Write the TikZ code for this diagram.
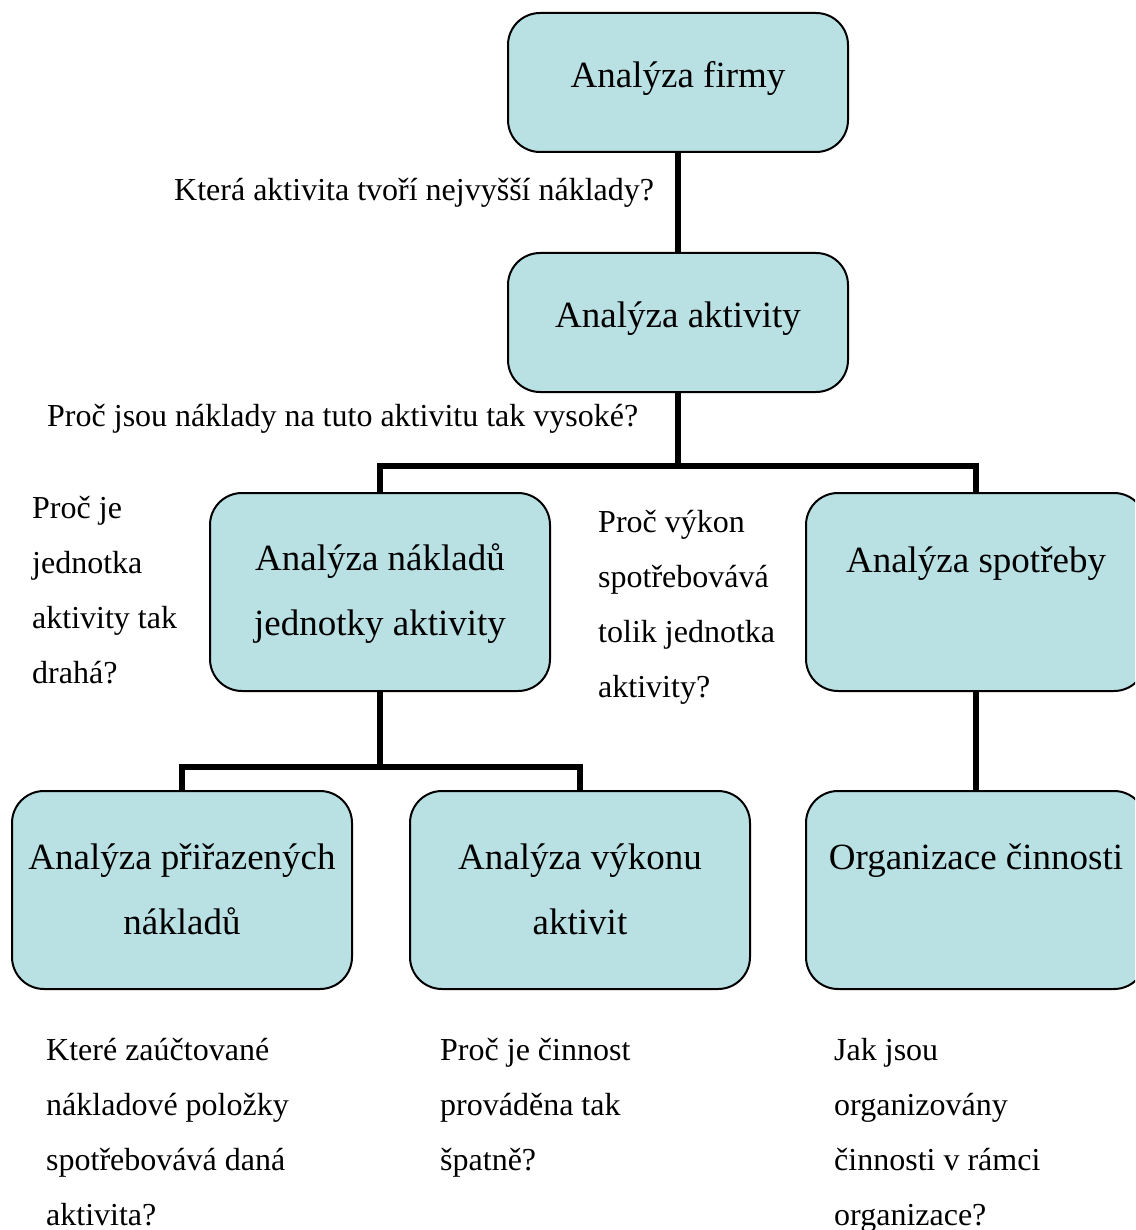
\documentclass[tikz,border=0pt]{standalone}
\usepackage{fontspec}
\setmainfont{Liberation Serif}
\definecolor{boxfill}{RGB}{185,224,227}
% stacked lines whose baseline is that of the first line
\newcommand\leftlines[1]{\vtop{\halign{##\hfil\cr #1\crcr}}}
\newcommand\midlines[1]{\vtop{\halign{\hfil##\hfil\cr #1\crcr}}}
\begin{document}
\begin{tikzpicture}[x=1pt,y=-1pt,
  box/.style={draw=black, line width=2pt, fill=boxfill, rounded corners=32pt,
              minimum width=340pt, anchor=north west, inner sep=0pt, outer sep=0pt},
  small/.style={minimum height=139pt},
  tall/.style={minimum height=198pt},
  boxtext/.style={font=\fontsize{37}{65}\selectfont, anchor=base, inner sep=0pt},
  question/.style={font=\fontsize{32}{55}\selectfont, anchor=base west, inner sep=0pt},
  link/.style={line width=5.5pt}]
\useasboundingbox (0,0) rectangle (1135,1230);
\clip (0,0) rectangle (1135,1230);

% boxes
\node[box, small] (firm) at (508,13) {};
\node[box, small] (act)  at (508,253) {};
\node[box, tall]  (unit) at (210,493) {};
\node[box, tall]  (cons) at (806,493) {};
\node[box, tall]  (alloc) at (12,791) {};
\node[box, tall]  (perf) at (410,791) {};
\node[box, tall]  (org) at (806,791) {};

% box captions
\node[boxtext] (firmT)  at (678,88)  {Analýza firmy};
\node[boxtext] (actT)   at (678,327) {Analýza aktivity};
\node[boxtext] (unitT)  at (380,570) {\midlines{Analýza nákladů\cr jednotky aktivity}};
\node[boxtext] (consT)  at (976,572) {Analýza spotřeby};
\node[boxtext] (allocT) at (182,869) {\midlines{Analýza přiřazených\cr nákladů}};
\node[boxtext] (perfT)  at (580,869) {\midlines{Analýza výkonu\cr aktivit}};
\node[boxtext] (orgT)   at (976,869) {Organizace činnosti};

% connectors
\coordinate (j1) at (678,466);
\coordinate (j2) at (380,767);
\draw[link] (firm.south) -- (act.north);
\draw[link] (act.south) -- (j1);
\draw[link] (unit.north) |- (j1) -| (cons.north);
\draw[link] (unit.south) -- (j2);
\draw[link] (alloc.north) |- (j2) -| (perf.north);
\draw[link] (cons.south) -- (org.north);

% questions
\node[question] (q1) at (174,201) {Která aktivita tvoří nejvyšší náklady?};
\node[question] (q2) at (47,426) {Proč jsou náklady na tuto aktivitu tak vysoké?};
\node[question] (q3) at (32,518) {\leftlines{Proč je\cr jednotka\cr aktivity tak\cr drahá?}};
\node[question] (q4) at (598,532) {\leftlines{Proč výkon\cr spotřebovává\cr tolik jednotka\cr aktivity?}};
\node[question] (q5) at (46,1060) {\leftlines{Které zaúčtované\cr nákladové položky\cr spotřebovává daná\cr aktivita?}};
\node[question] (q6) at (440,1060) {\leftlines{Proč je činnost\cr prováděna tak\cr špatně?}};
\node[question] (q7) at (834,1060) {\leftlines{Jak jsou\cr organizovány\cr činnosti v rámci\cr organizace?}};
\end{tikzpicture}
\end{document}
